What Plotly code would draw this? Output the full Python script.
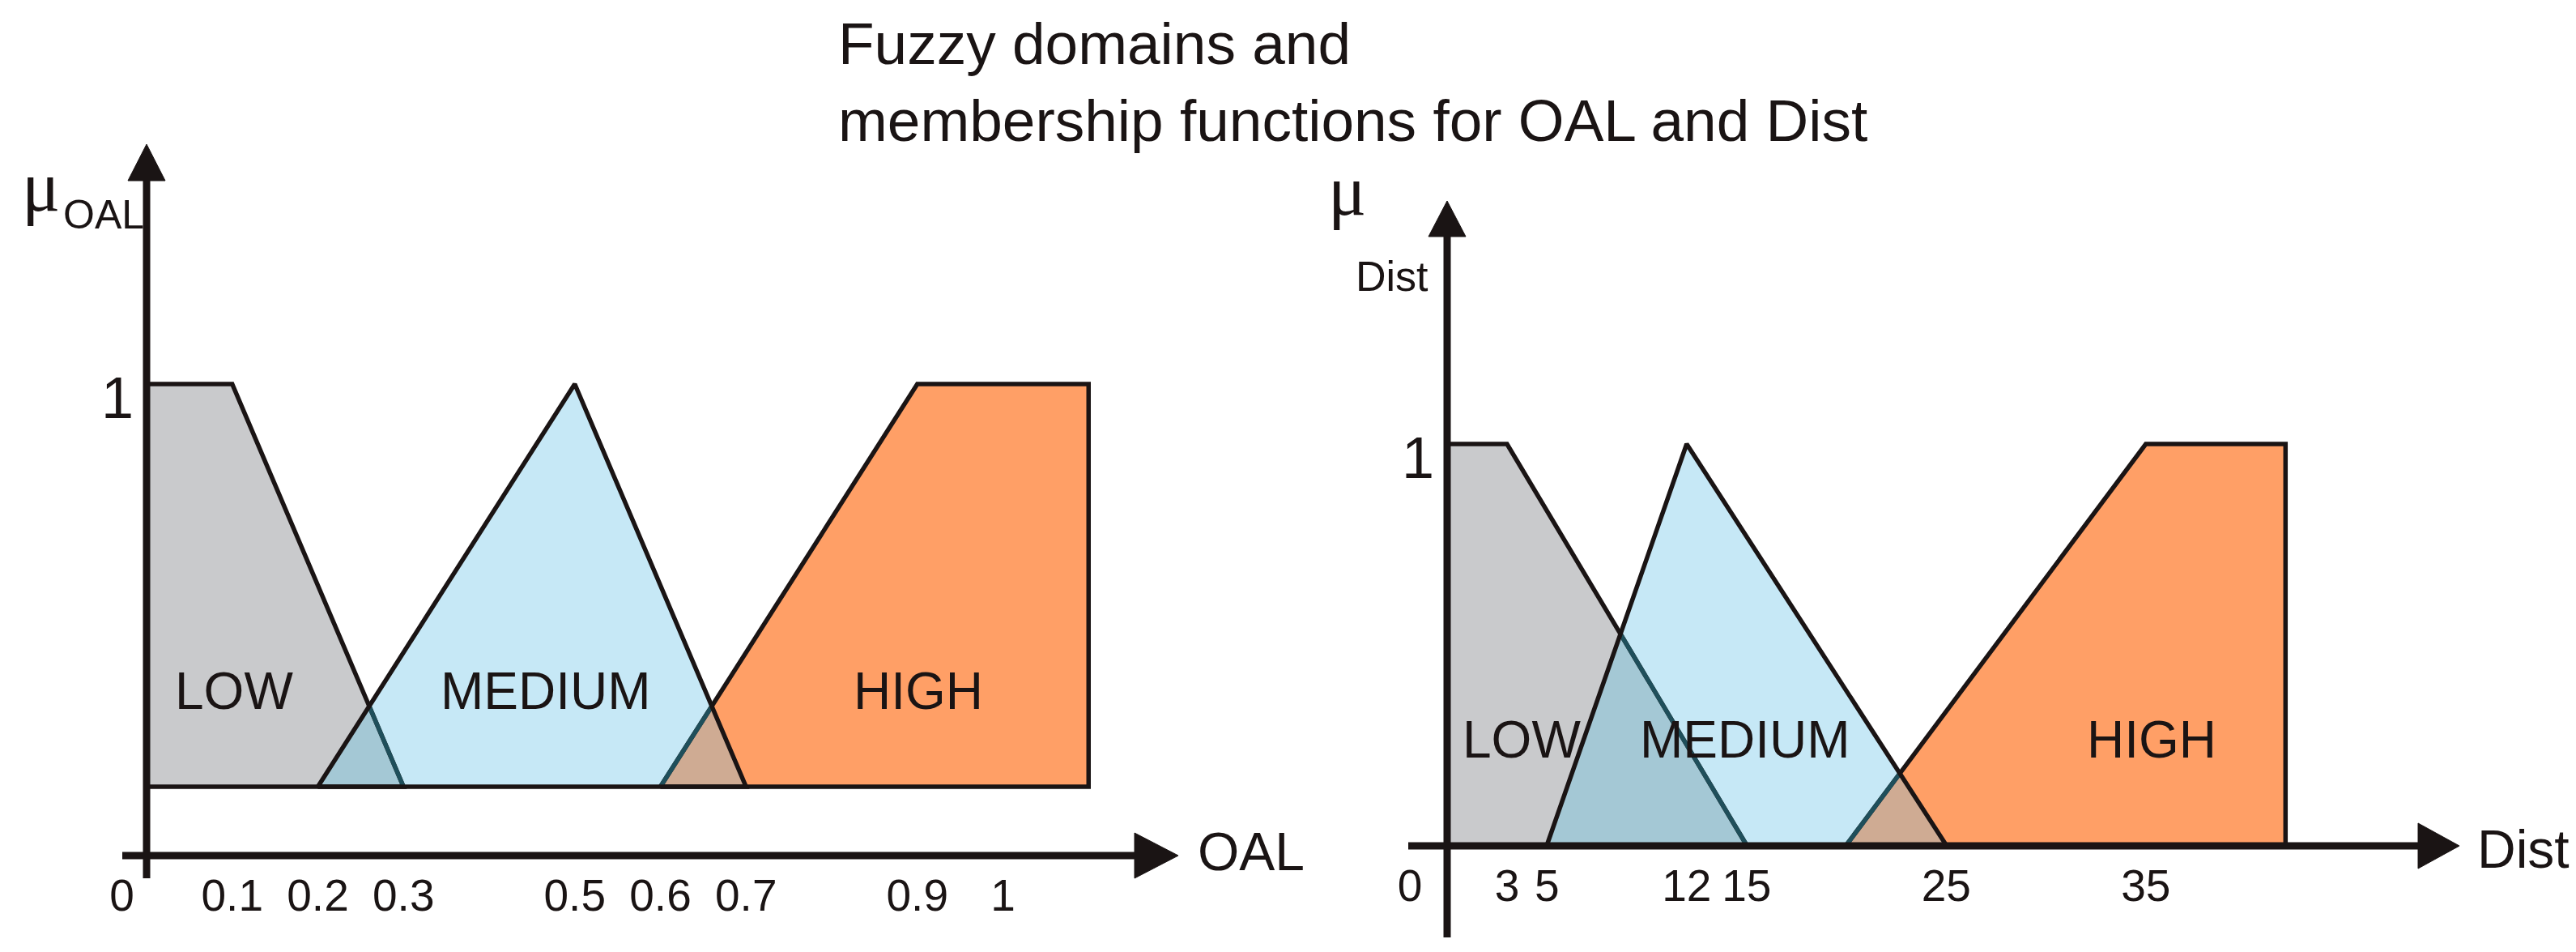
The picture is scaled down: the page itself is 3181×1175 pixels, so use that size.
import numpy as np
import plotly.graph_objects as go

# ---------------- data ----------------
SET_NAMES = ["LOW", "MEDIUM", "HIGH"]

OAL_LOW_X = [0.0, 0.0, 0.1, 0.3]
OAL_LOW_Y = [0.0, 1.0, 1.0, 0.0]
OAL_MED_X = [0.2, 0.5, 0.7]
OAL_MED_Y = [0.0, 1.0, 0.0]
OAL_HIGH_X = [0.6, 0.9, 1.1, 1.1]
OAL_HIGH_Y = [0.0, 1.0, 1.0, 0.0]
OAL_TICKS = [0, 0.1, 0.2, 0.3, 0.5, 0.6, 0.7, 0.9, 1.0]
OAL_TICK_LABELS = ["0", "0.1", "0.2", "0.3", "0.5", "0.6", "0.7", "0.9", "1"]

DIST_LOW_X = [0, 0, 3, 15]
DIST_LOW_Y = [0, 1, 1, 0]
DIST_MED_X = [5, 12, 25]
DIST_MED_Y = [0, 1, 0]
DIST_HIGH_X = [20, 35, 42, 42]
DIST_HIGH_Y = [0, 1, 1, 0]
DIST_TICKS = [0, 3, 5, 12, 15, 25, 35]
DIST_TICK_LABELS = ["0", "3", "5", "12", "15", "25", "35"]

MU_TICKS = [1]
MU_TICK_LABELS = ["1"]

# ---------------- style / layout ----------------
W, H = 3181, 1175
FONT = "Liberation Sans, Arial, sans-serif"
SERIF = "Liberation Serif, Times New Roman, serif"
INK = "#1a1414"
TEAL = "#1f4f5b"
C_LOW = "#c9cacc"
C_MED = "#c6e8f6"
C_HIGH = "#ff9f66"
C_LM = "#a4c8d5"
C_MH = "#cfab93"
OUTLINE_W = 5.5
AXIS_W = 9

NBSP = "\u00a0"

PANELS = [
    dict(xa="x", ya="y", dom=[0.0, 0.5], ox=173, oy=963, sx=1057.5, sy=497,
         low=(OAL_LOW_X, OAL_LOW_Y), med=(OAL_MED_X, OAL_MED_Y), high=(OAL_HIGH_X, OAL_HIGH_Y),
         ticks=OAL_TICKS, labels=[OAL_TICK_LABELS[0] + NBSP * 4] + OAL_TICK_LABELS[1:],
         xaxis_py=1048, xaxis_from_px=143, xaxis_tip_px=1447,
         yaxis_from_py=1076, yaxis_tip_py=170, xarrow=(54, 28), yarrow=(45, 23),
         set_label_px=[(281, 845), (666, 845), (1126, 845)]),
    dict(xa="x2", ya="y2", dom=[0.5, 1.0], ox=1779, oy=1035, sx=24.65, sy=495,
         low=(DIST_LOW_X, DIST_LOW_Y), med=(DIST_MED_X, DIST_MED_Y), high=(DIST_HIGH_X, DIST_HIGH_Y),
         ticks=DIST_TICKS, labels=[DIST_TICK_LABELS[0] + NBSP * 6] + DIST_TICK_LABELS[1:],
         xaxis_py=1036, xaxis_from_px=1731, xaxis_tip_px=3029,
         yaxis_from_py=1149, yaxis_tip_py=240, xarrow=(51, 28), yarrow=(44, 23),
         set_label_px=[(1871, 905), (2147, 905), (2649, 905)]),
]


def dx(p, px):
    return (px - p["ox"]) / p["sx"]


def dy(p, py):
    return (p["oy"] - py) / p["sy"]


def closed(xs, ys):
    return list(xs) + [xs[0]], list(ys) + [ys[0]]


def overlap(a, b, n=800):
    (xa, ya), (xb, yb) = a, b
    lo = max(min(xa), min(xb))
    hi = min(max(xa), max(xb))
    xs = np.linspace(lo, hi, n)
    fa = np.interp(xs, xa, ya)
    fb = np.interp(xs, xb, yb)
    return xs, fa, fb


fig = go.Figure()

for p in PANELS:
    kw = dict(xaxis=p["xa"], yaxis=p["ya"], hoverinfo="skip", showlegend=False)
    # fills
    for shape, col in [(p["low"], C_LOW), (p["high"], C_HIGH), (p["med"], C_MED)]:
        xs, ys = closed(*shape)
        fig.add_trace(go.Scatter(x=xs, y=ys, mode="lines", fill="toself", fillcolor=col,
                                 line=dict(width=0, color=col), **kw))
    # overlaps (MEDIUM lies over LOW and HIGH)
    teal_segments = []
    for under, col in [(p["low"], C_LM), (p["high"], C_MH)]:
        xs, fu, fm = overlap(under, p["med"])
        ymin = np.minimum(fu, fm)
        fig.add_trace(go.Scatter(x=np.r_[xs, xs[0]], y=np.r_[ymin, ymin[0]], mode="lines",
                                 fill="toself", fillcolor=col, line=dict(width=0, color=col), **kw))
        mask = fu <= fm
        teal_segments.append((xs[mask], fu[mask]))
    # outlines
    for shape in [p["low"], p["high"]]:
        xs, ys = closed(*shape)
        fig.add_trace(go.Scatter(x=xs, y=ys, mode="lines",
                                 line=dict(width=OUTLINE_W, color=INK), **kw))
    for sx_, sy_ in teal_segments:
        fig.add_trace(go.Scatter(x=sx_, y=sy_, mode="lines",
                                 line=dict(width=OUTLINE_W, color=TEAL), **kw))
    xs, ys = closed(*p["med"])
    fig.add_trace(go.Scatter(x=xs, y=ys, mode="lines",
                             line=dict(width=OUTLINE_W, color=INK), **kw))

    # axis lines with arrow heads
    xl, xh = p["xarrow"]
    yl, yh = p["yarrow"]
    fig.add_trace(go.Scatter(
        x=[dx(p, p["xaxis_from_px"]), dx(p, p["xaxis_tip_px"] - xl + 2)],
        y=[dy(p, p["xaxis_py"])] * 2, mode="lines",
        line=dict(width=AXIS_W, color=INK), **kw))
    fig.add_trace(go.Scatter(
        x=[dx(p, p["xaxis_tip_px"]), dx(p, p["xaxis_tip_px"] - xl), dx(p, p["xaxis_tip_px"] - xl),
           dx(p, p["xaxis_tip_px"])],
        y=[dy(p, p["xaxis_py"]), dy(p, p["xaxis_py"] - xh), dy(p, p["xaxis_py"] + xh),
           dy(p, p["xaxis_py"])],
        mode="lines", fill="toself", fillcolor=INK, line=dict(width=1, color=INK), **kw))
    fig.add_trace(go.Scatter(
        x=[0, 0], y=[dy(p, p["yaxis_from_py"]), dy(p, p["yaxis_tip_py"] + yl - 2)],
        mode="lines", line=dict(width=AXIS_W, color=INK), **kw))
    fig.add_trace(go.Scatter(
        x=[0, dx(p, p["ox"] - yh), dx(p, p["ox"] + yh), 0],
        y=[dy(p, p["yaxis_tip_py"]), dy(p, p["yaxis_tip_py"] + yl), dy(p, p["yaxis_tip_py"] + yl),
           dy(p, p["yaxis_tip_py"])],
        mode="lines", fill="toself", fillcolor=INK, line=dict(width=1, color=INK), **kw))

annotations = []


def text(px, py, s, size, xanchor="center", family=FONT, yanchor="middle"):
    annotations.append(dict(x=px / W, y=1 - py / H, xref="paper", yref="paper", text=s,
                            showarrow=False, xanchor=xanchor, yanchor=yanchor,
                            font=dict(family=family, size=size, color=INK)))


for p in PANELS:
    for name, (px, py) in zip(SET_NAMES, p["set_label_px"]):
        text(px, py, name, 64)

# title
annotations.append(dict(x=1025 / W, y=1 - 93 / H, xref="paper", yref="paper",
                        text="Fuzzy domains and<br>membership functions for OAL and Dist",
                        showarrow=False, xanchor="left", yanchor="middle", align="left",
                        font=dict(family=FONT, size=73, color=INK)))
# axis names
text(1469, 1043, "OAL", 66, xanchor="left")
text(3049, 1040, "Dist", 66, xanchor="left")
text(42, 222, "μ", 88, family=SERIF)
text(68, 257, "OAL", 50, xanchor="left")
text(1655, 227, "μ", 88, family=SERIF)
text(1758, 333, "Dist", 52, xanchor="right")

layout = dict(
    width=W, height=H, margin=dict(l=0, r=0, t=0, b=0),
    paper_bgcolor="white", plot_bgcolor="white", showlegend=False,
    annotations=annotations,
)

for i, p in enumerate(PANELS):
    sfx = "" if i == 0 else str(i + 1)
    xr = [(p["dom"][0] * W - p["ox"]) / p["sx"], (p["dom"][1] * W - p["ox"]) / p["sx"]]
    yr = [(p["oy"] - H) / p["sy"], p["oy"] / p["sy"]]
    layout["xaxis" + sfx] = dict(
        domain=p["dom"], range=xr, anchor="free", position=1 - p["xaxis_py"] / H,
        tickmode="array", tickvals=p["ticks"], ticktext=p["labels"], tickangle=0,
        showgrid=False, zeroline=False, showline=False, ticks="",
        ticklabelstandoff=12, tickfont=dict(family=FONT, size=55, color=INK),
        fixedrange=True)
    layout["yaxis" + sfx] = dict(
        domain=[0, 1], range=yr, anchor="free", position=p["ox"] / W,
        tickmode="array", tickvals=MU_TICKS, ticktext=MU_TICK_LABELS,
        showgrid=False, zeroline=False, showline=False, ticks="",
        ticklabelstandoff=16, ticklabelshift=17,
        tickfont=dict(family=FONT, size=72, color=INK), fixedrange=True)

fig.update_layout(**layout)
fig.write_html("out.html")
